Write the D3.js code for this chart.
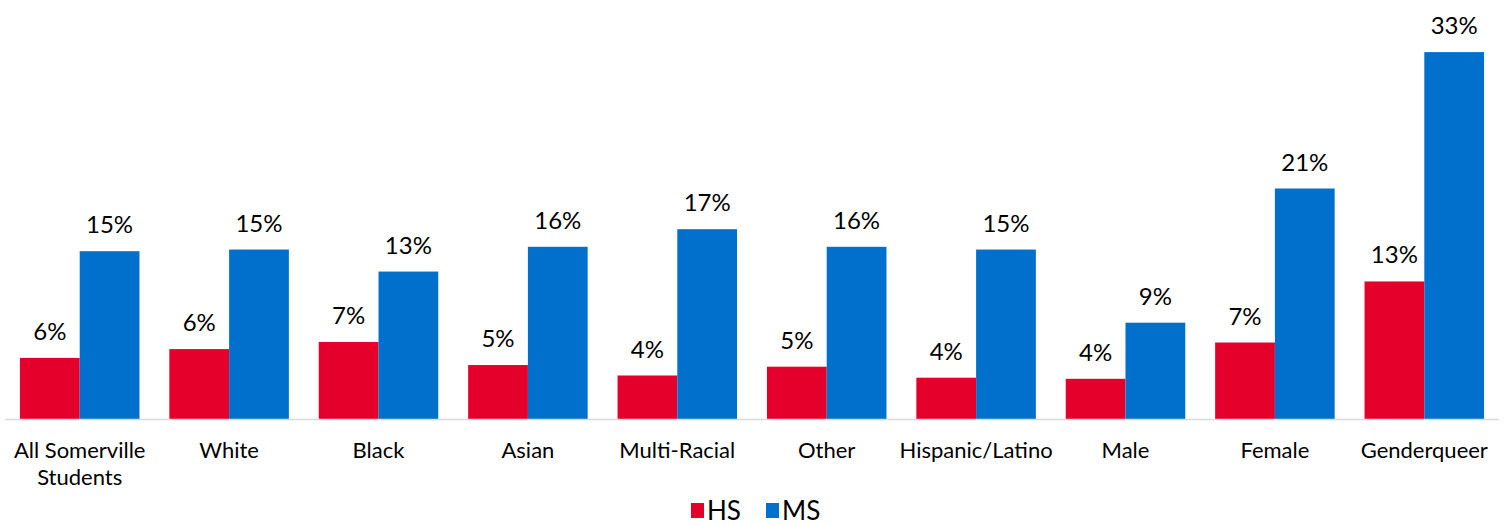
<!DOCTYPE html>
<html>
<head>
<meta charset="utf-8">
<script src="https://cdn.jsdelivr.net/npm/d3@7/dist/d3.min.js"></script>
<style>
  html, body { margin: 0; padding: 0; background: #ffffff; }
  svg { display: block; }
  text { font-family: Lato, "Noto Sans", sans-serif; fill: #000; }
</style>
</head>
<body>
<svg id="chart" width="1507" height="525"></svg>
<script>
const categories = [
  ["All Somerville", "Students"], ["White"], ["Black"], ["Asian"], ["Multi-Racial"],
  ["Other"], ["Hispanic/Latino"], ["Male"], ["Female"], ["Genderqueer"]
];
const seriesNames = ["HS", "MS"];
const hsValues = [5.6, 6.4, 7.05, 4.95, 4.0, 4.8, 3.8, 3.7, 7.0, 12.55];
const msValues = [15.3, 15.45, 13.45, 15.7, 17.3, 15.7, 15.45, 8.8, 21.0, 33.4];
const colors = ["#E4002B", "#0070CD"];

const svg = d3.select("#chart");
const plotLeft = 5, plotRight = 1499, baseline = 419.5;

const keys = categories.map((c, i) => i);
const x0 = d3.scaleBand().domain(keys).range([plotLeft, plotRight]).paddingInner(0.2).paddingOuter(0.1);
const x1 = d3.scaleBand().domain(seriesNames).range([0, x0.bandwidth()]).padding(0);
const y = d3.scaleLinear().domain([0, 35]).range([baseline, baseline - 35 * 11]);
const color = d3.scaleOrdinal().domain(seriesNames).range(colors);

const data = keys.map(i => ({ i, values: [
  { key: "HS", value: hsValues[i] },
  { key: "MS", value: msValues[i] }
]}));

const groups = svg.append("g").selectAll("g").data(data).join("g")
  .attr("transform", d => `translate(${x0(d.i)},0)`);

groups.selectAll("rect").data(d => d.values).join("rect")
  .attr("x", d => x1(d.key))
  .attr("y", d => y(d.value))
  .attr("width", x1.bandwidth())
  .attr("height", d => y(0) - y(d.value))
  .attr("fill", d => color(d.key));

groups.selectAll("text.val").data(d => d.values).join("text")
  .attr("class", "val")
  .attr("x", d => x1(d.key) + x1.bandwidth() / 2)
  .attr("y", d => y(d.value) - 18)
  .attr("text-anchor", "middle")
  .style("font-size", "24px")
  .text(d => Math.round(d.value) + "%");

// axis
const xAxis = d3.axisBottom(x0).tickSize(0).tickFormat("");
const axisG = svg.append("g").attr("transform", `translate(0,${baseline})`).call(xAxis);
axisG.select(".domain").attr("stroke", "#d9d9d9").attr("stroke-width", 1.5)
  .attr("d", `M${plotLeft},0H${plotRight}`);

const labelG = svg.append("g");
keys.forEach(i => {
  const cx = x0(i) + x0.bandwidth() / 2;
  const t = labelG.append("text")
    .attr("x", cx)
    .attr("y", 458)
    .attr("text-anchor", "middle")
    .style("font-size", "22px");
  categories[i].forEach((line, j) => {
    t.append("tspan").attr("x", cx).attr("dy", j === 0 ? 0 : 26.7).text(line);
  });
});

// legend
const legend = svg.append("g");
const legendItems = [{ name: "HS", x: 691 }, { name: "MS", x: 766 }];
legendItems.forEach(it => {
  legend.append("rect").attr("x", it.x).attr("y", 503).attr("width", 13).attr("height", 15)
    .attr("fill", color(it.name));
  legend.append("text").attr("x", it.x + 16).attr("y", 519.5)
    .style("font-size", "26px").text(it.name);
});
</script>
</body>
</html>
